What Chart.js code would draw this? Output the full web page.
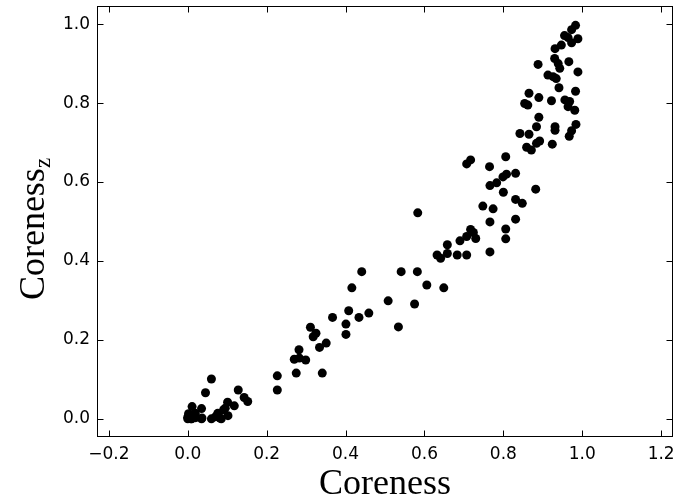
<!DOCTYPE html>
<html>
<head>
<meta charset="utf-8">
<script src="https://cdn.jsdelivr.net/npm/chart.js@4/dist/chart.umd.min.js"></script>
<style>
  html, body { margin: 0; padding: 0; background: #ffffff; }
  #wrap { width: 678px; height: 504px; position: relative; }
</style>
</head>
<body>
<div id="wrap"><canvas id="c"></canvas></div>
<script>
// Axis labels
const xTitle = "Coreness";
const yTitle = "Coreness";
const yTitleSub = "z";

// Tick values
const xTickValues = [-0.2, 0.0, 0.2, 0.4, 0.6, 0.8, 1.0, 1.2];
const yTickValues = [0.0, 0.2, 0.4, 0.6, 0.8, 1.0];

// Series values (Coreness, Coreness_z)
const corenessX = [
  0.000, 0.005, 0.002, 0.011, 0.010, 0.020, 0.035, 0.035, 0.045, 0.060,
  0.060, 0.070, 0.076, 0.082, 0.085, 0.091, 0.095, 0.101, 0.102, 0.118,
  0.128, 0.143, 0.152, 0.019, 0.036, 0.000, 0.008,
  0.227, 0.227, 0.275, 0.341, 0.270, 0.283, 0.299, 0.282, 0.334, 0.351,
  0.311, 0.325, 0.318, 0.367, 0.401, 0.401, 0.408, 0.434, 0.416, 0.441,
  0.459, 0.508, 0.534, 0.541, 0.575, 0.582, 0.583, 0.606, 0.649,
  0.632, 0.641, 0.658, 0.658, 0.683, 0.707, 0.690, 0.707, 0.717, 0.724,
  0.730, 0.766, 0.766, 0.748, 0.774, 0.806, 0.806, 0.831, 0.831, 0.848,
  0.800, 0.882, 0.766, 0.783, 0.799, 0.808, 0.831, 0.765, 0.806, 0.707,
  0.717,
  0.983, 0.973, 0.955, 0.964, 0.989, 0.973, 0.947, 0.931, 0.888, 0.930,
  0.939, 0.966, 0.943, 0.989, 0.913, 0.926, 0.934, 0.941, 0.983, 0.865,
  0.890, 0.854, 0.862, 0.922, 0.956, 0.968, 0.964, 0.981, 0.890, 0.884,
  0.842, 0.865, 0.931, 0.931, 0.984, 0.973, 0.967, 0.859, 0.871, 0.884,
  0.892, 0.924
];
const corenessZ = [
  0.000, 0.007, 0.013, 0.031, 0.000, 0.003, 0.026, 0.000, 0.066, 0.101,
  0.000, 0.005, 0.014, 0.002, 0.000, 0.023, 0.027, 0.042, 0.008, 0.033,
  0.073, 0.054, 0.044, 0.014, 0.002, 0.004, 0.000,
  0.109, 0.073, 0.116, 0.116, 0.151, 0.154, 0.149, 0.175, 0.181, 0.192,
  0.232, 0.217, 0.208, 0.257, 0.240, 0.214, 0.274, 0.257, 0.332, 0.373,
  0.268, 0.299, 0.233, 0.373, 0.291, 0.373, 0.522, 0.339, 0.332,
  0.415, 0.407, 0.441, 0.419, 0.415, 0.415, 0.451, 0.462, 0.480, 0.472,
  0.457, 0.423, 0.499, 0.539, 0.532, 0.481, 0.456, 0.506, 0.556, 0.546,
  0.574, 0.582, 0.591, 0.598, 0.613, 0.620, 0.622, 0.639, 0.664, 0.646,
  0.656,
  0.997, 0.986, 0.971, 0.966, 0.963, 0.953, 0.947, 0.938, 0.898, 0.913,
  0.900, 0.905, 0.888, 0.879, 0.871, 0.867, 0.862, 0.839, 0.830, 0.825,
  0.814, 0.799, 0.795, 0.806, 0.808, 0.804, 0.791, 0.782, 0.764, 0.740,
  0.723, 0.721, 0.740, 0.731, 0.746, 0.730, 0.716, 0.688, 0.681, 0.698,
  0.704, 0.696
];

const points = corenessX.map((x, i) => ({ x: x, y: corenessZ[i] }));

function fmt(v) {
  const s = Math.abs(v).toFixed(1);
  return v < -1e-9 ? "\u2212" + s : s;
}

function noPad(s) {
  s.paddingTop = 0; s.paddingBottom = 0; s.paddingLeft = 0; s.paddingRight = 0;
}

const framePlugin = {
  id: "frame",
  afterDraw(chart) {
    const ctx = chart.ctx;
    const a = chart.chartArea;
    const xs = chart.scales.x, ys = chart.scales.y;
    const L = Math.round(a.left) + 0.5, R = Math.round(a.right) - 0.5;
    const T = Math.round(a.top) + 0.5, B = Math.round(a.bottom) - 0.5;
    ctx.save();
    ctx.strokeStyle = "#000000";
    ctx.lineWidth = 1;
    ctx.strokeRect(L, T, R - L, B - T);
    const tl = 6;
    ctx.beginPath();
    xTickValues.forEach(v => {
      const px = Math.round(xs.getPixelForValue(v)) + 0.5;
      ctx.moveTo(px, B); ctx.lineTo(px, B - tl);
      ctx.moveTo(px, T); ctx.lineTo(px, T + tl);
    });
    yTickValues.forEach(v => {
      const py = Math.round(ys.getPixelForValue(v)) + 0.5;
      ctx.moveTo(L, py); ctx.lineTo(L + tl, py);
      ctx.moveTo(R, py); ctx.lineTo(R - tl, py);
    });
    ctx.stroke();

    // axis titles
    ctx.fillStyle = "#000000";
    ctx.font = "36px 'Liberation Serif', serif";
    ctx.textAlign = "center";
    ctx.textBaseline = "alphabetic";
    ctx.fillText(xTitle, (a.left + a.right) / 2, 494);

    ctx.save();
    const mainW = ctx.measureText(yTitle).width;
    ctx.font = "23px 'Liberation Serif', serif";
    const subW = ctx.measureText(yTitleSub).width;
    const total = mainW + subW;
    const cy = 229;
    ctx.translate(44, cy + total / 2);
    ctx.rotate(-Math.PI / 2);
    ctx.textAlign = "left";
    ctx.font = "36px 'Liberation Serif', serif";
    ctx.fillText(yTitle, 0, 0);
    ctx.font = "23px 'Liberation Serif', serif";
    ctx.fillText(yTitleSub, mainW, 6);
    ctx.restore();
    ctx.restore();
  }
};

new Chart(document.getElementById("c"), {
  type: "scatter",
  data: {
    datasets: [{
      data: points,
      pointRadius: 4.5,
      pointHoverRadius: 4.5,
      pointBackgroundColor: "#000000",
      pointBorderWidth: 0,
      pointBorderColor: "#000000"
    }]
  },
  options: {
    responsive: true,
    maintainAspectRatio: false,
    animation: false,
    events: [],
    layout: { padding: { top: 6, right: 5, left: 0, bottom: 0 } },
    plugins: { legend: { display: false }, tooltip: { enabled: false } },
    scales: {
      x: {
        type: "linear",
        min: -0.23,
        max: 1.23,
        grid: { display: false, drawTicks: false },
        border: { display: false },
        afterBuildTicks: s => { s.ticks = xTickValues.map(v => ({ value: v })); },
        afterFit: s => { s.height = 67; noPad(s); },
        ticks: {
          padding: 7,
          color: "#000000",
          maxRotation: 0,
          autoSkip: false,
          font: { family: "'DejaVu Sans'", size: 17 },
          callback: v => fmt(v)
        }
      },
      y: {
        type: "linear",
        min: -0.046,
        max: 1.046,
        grid: { display: false, drawTicks: false },
        border: { display: false },
        afterBuildTicks: s => { s.ticks = yTickValues.map(v => ({ value: v })); },
        afterFit: s => { s.width = 97; noPad(s); },
        ticks: {
          padding: 7,
          color: "#000000",
          autoSkip: false,
          font: { family: "'DejaVu Sans'", size: 17 },
          callback: v => fmt(v)
        }
      }
    }
  },
  plugins: [framePlugin]
});
</script>
</body>
</html>
